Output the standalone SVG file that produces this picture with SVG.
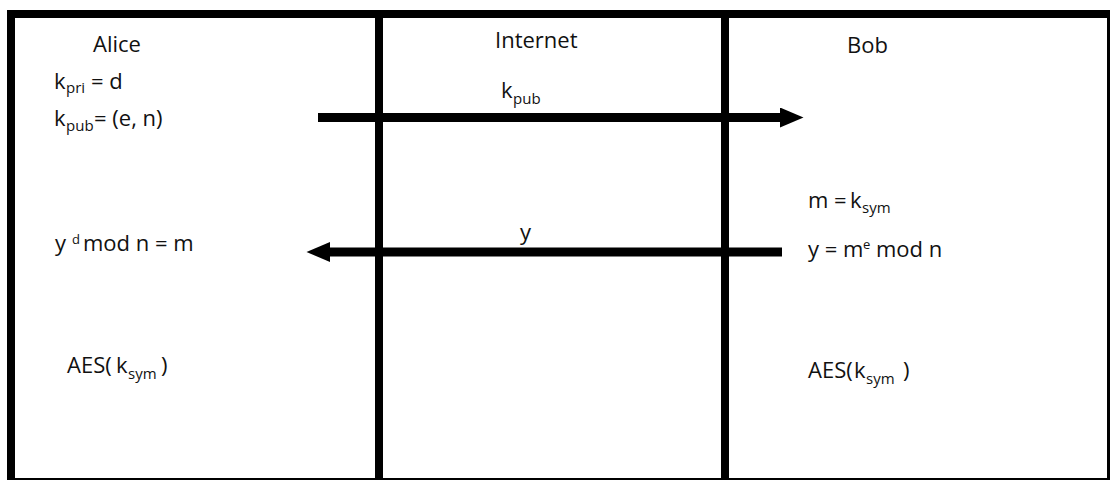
<svg xmlns="http://www.w3.org/2000/svg" width="1110" height="480" viewBox="0 0 1110 480">
  <style>
    text { font-family: "Open Sans", "Liberation Sans", sans-serif; fill: #111; font-size: 22px; }
    .sub { font-size: 15px; }
    .sup { font-size: 13px; }
    .frame { fill: none; stroke: #000; stroke-width: 8; }
    .lane { stroke: #000; stroke-width: 8; }
    .msg { stroke: #000; stroke-width: 9; fill: none; }
  </style>
  <defs>
    <marker id="head" markerUnits="userSpaceOnUse" markerWidth="24" markerHeight="20" viewBox="0 0 24 20" refX="0" refY="10" orient="auto">
      <path d="M0,0 L23.5,10 L0,20 z" fill="#000"/>
    </marker>
  </defs>
  <rect width="1110" height="480" fill="#fff"/>

  <g id="frame">
    <rect class="frame" x="11" y="14" width="1100" height="468"/>
    <line class="lane" x1="379" y1="14" x2="379" y2="482"/>
    <line class="lane" x1="725" y1="14" x2="725" y2="482"/>
  </g>

  <g id="alice">
    <text x="93" y="52">Alice</text>
    <text x="54" y="89">k</text>
    <text class="sub" x="66" y="93">pri</text>
    <text x="91" y="89">= d</text>
    <text x="54" y="126">k</text>
    <text class="sub" x="66" y="131">pub</text>
    <text x="94" y="126">= (e, n)</text>
    <text x="55" y="251">y</text>
    <text class="sup" x="72" y="244">d</text>
    <text x="83" y="251">mod n = m</text>
    <text x="67" y="373">AES(</text>
    <text x="116" y="373">k</text>
    <text class="sub" x="128" y="379">sym</text>
    <text x="161" y="373">)</text>
  </g>

  <g id="internet">
    <text x="495" y="48">Internet</text>
  </g>

  <g id="bob">
    <text x="847" y="53">Bob</text>
    <text x="808" y="208">m = </text>
    <text x="850" y="208">k</text>
    <text class="sub" x="862" y="213">sym</text>
    <text x="808" y="257">y = m</text>
    <text class="sup" x="863" y="249">e</text>
    <text x="876" y="257">mod n</text>
    <text x="808" y="378">AES(</text>
    <text x="854" y="378">k</text>
    <text class="sub" x="866" y="384">sym</text>
    <text x="903" y="378">)</text>
  </g>

  <g id="connectors">
    <line class="msg" x1="318" y1="117.5" x2="780" y2="117.5" marker-end="url(#head)"/>
    <text x="501" y="98">k</text>
    <text class="sub" x="513" y="104">pub</text>
    <line class="msg" x1="782" y1="252" x2="330" y2="252" marker-end="url(#head)"/>
    <text x="520" y="240">y</text>
  </g>
</svg>
